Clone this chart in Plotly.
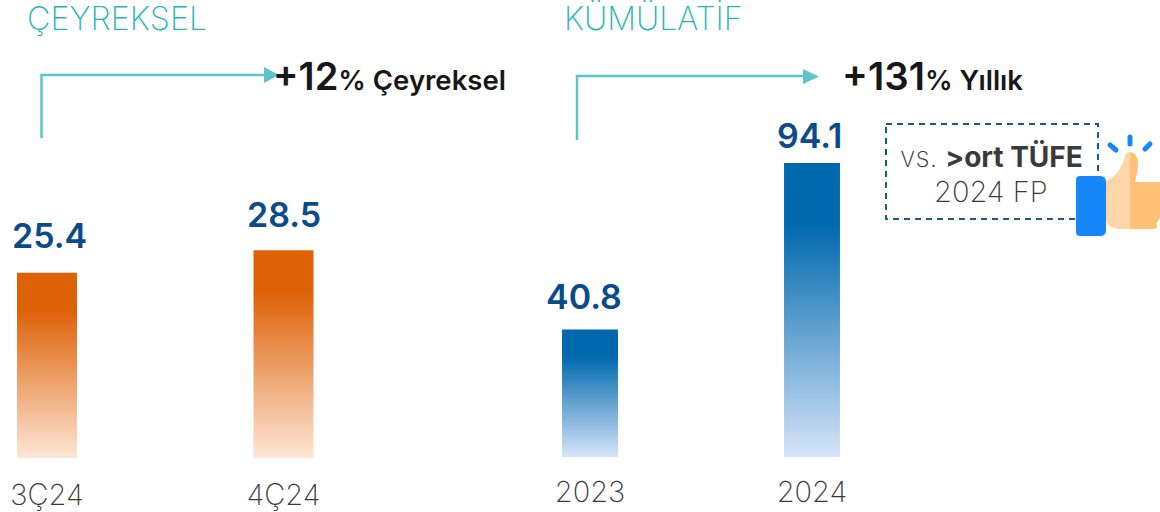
import plotly.graph_objects as go

quarters = ["3Ç24", "4Ç24"]
quarter_values = [25.4, 28.5]
years = ["2023", "2024"]
year_values = [40.8, 94.1]

W, H = 1160, 512
FONT = "Inter"
TEAL = "#5cc5c9"
TITLE = "#27b5b7"
NAVY = "#0b4a8b"
GREY = "#3a3a3a"

fig = go.Figure()
fig.add_trace(go.Bar(x=quarters, y=quarter_values, width=0.2537, xaxis="x", yaxis="y",
                     marker=dict(color="#de6108", line=dict(width=0)), hoverinfo="skip"))
fig.add_trace(go.Bar(x=years, y=year_values, width=0.252, xaxis="x2", yaxis="y2",
                     marker=dict(color="#0069ae", line=dict(width=0)), hoverinfo="skip"))
# invisible full-page helper trace so decorations can use pixel-like axes
fig.add_trace(go.Scatter(x=[0], y=[0], xaxis="x3", yaxis="y3", mode="markers",
                         marker=dict(opacity=0), showlegend=False, hoverinfo="skip"))


def px_path(*pts):
    return "M" + " L".join(f"{x},{y}" for x, y in pts)


def shape(path, fill=None, line=None, width=0, dash=None):
    d = dict(type="path", path=path, xref="x3", yref="y3", layer="above",
             line=dict(color=line or "rgba(0,0,0,0)", width=width))
    if dash:
        d["line"]["dash"] = dash
    if fill:
        d["fillcolor"] = fill
    return d


shapes = [
    shape(px_path((41.5, 138), (41.5, 75), (268, 75)), line=TEAL, width=2.5),
    shape(px_path((264, 67), (279, 75), (264, 83)) + " Z", fill=TEAL),
    shape(px_path((577, 140), (577, 76), (806, 76)), line=TEAL, width=2.5),
    shape(px_path((803, 69), (819, 76.5), (803, 84)) + " Z", fill=TEAL),
    shape(px_path((886, 124), (1098, 124), (1098, 219), (886, 219)) + " Z", line="#1b5a8e", width=2, dash="6px,5px"),
    # thumb
    shape("M1106,181 C1115,178 1122,168 1125,156 Q1126,152 1130,152 L1130,229 L1118,229 Q1110,228 1106,222 Z", fill="#fdd7a8"),
    shape("M1130,152 Q1138,153 1138,163 Q1138,172 1135,182 L1160,182 L1160,218 L1156,224 Q1160,229 1152,229 L1130,229 Z", fill="#fec177"),
    shape("M1080,176 L1100,176 Q1106,176 1106,182 L1106,230 Q1106,236 1100,236 L1080,236 Q1076,236 1076,232 L1076,180 Q1076,176 1080,176 Z", fill="#1786fb"),
    shape(px_path((1110, 145), (1116, 150)), line="#1786fb", width=5),
    shape(px_path((1130, 137), (1130, 144)), line="#1786fb", width=5),
    shape(px_path((1150, 144), (1145, 149)), line="#1786fb", width=5),
]


def note(x, y, text, size, color, weight=400, anchor="left"):
    return dict(x=x, y=y, xref="x3", yref="y3", text=text, showarrow=False, xanchor=anchor, yanchor="middle",
                font=dict(family=FONT, size=size, color=color, weight=weight))


def value_label(pos, val, xref, yref, xshift, yshift):
    return dict(x=pos, y=val, xref=xref, yref=yref, text=f"{val:.1f}", showarrow=False, xanchor="center",
                yanchor="middle", xshift=xshift, yshift=yshift,
                font=dict(family=FONT, size=34, color=NAVY, weight=600))


annotations = [
    note(25, 18, "ÇEYREKSEL", 32.3, TITLE, 200),
    note(562, 18, "KÜMÜLATİF", 32, TITLE, 200),
    note(271, 76, '+12<span style="font-size:27.5px">% Çeyreksel</span>', 38, "#171717", 600),
    note(840, 76, '+131<span style="font-size:27.5px">% Yıllık</span>', 38.5, "#171717", 600),
    note(991, 157, "vs. <b>&gt;ort TÜFE</b>", 28, GREY, 200, "center"),
    note(991, 191, "2024 FP", 29, GREY, 200, "center"),
    value_label(0, quarter_values[0], "x", "y", 2.5, 37),
    value_label(1, quarter_values[1], "x", "y", 0.5, 36),
    value_label(0, year_values[0], "x2", "y2", -6, 33),
    value_label(1, year_values[1], "x2", "y2", -3, 27),
]

tick = dict(family=FONT, size=29, color=GREY, weight=200)
common_x = dict(type="category", showline=False, showgrid=False, zeroline=False, ticks="outside",
                tickcolor="rgba(0,0,0,0)", tickfont=tick, automargin=False)
common_y = dict(visible=False, fixedrange=True)
left_bottom = 1 - 458 / H
right_bottom = 1 - 457 / H

fig.update_layout(
    width=W, height=H, autosize=False, margin=dict(l=0, r=0, t=0, b=0),
    paper_bgcolor="white", plot_bgcolor="rgba(0,0,0,0)", showlegend=False,
    xaxis=dict(domain=[0, 400 / W], range=[-0.1987, 1.4926], anchor="y", ticklen=11, **common_x),
    xaxis2=dict(domain=[480 / W, 900 / W], range=[-0.4955, 1.3964], anchor="y2", ticklen=9, **common_x),
    xaxis3=dict(domain=[0, 1], range=[0, W], visible=False, anchor="y3"),
    yaxis=dict(domain=[left_bottom, 1], range=[0, 458 / 7.29], anchor="x", **common_y),
    yaxis2=dict(domain=[right_bottom, 1], range=[0, 457 / 3.125], anchor="x2", **common_y),
    yaxis3=dict(domain=[0, 1], range=[H, 0], visible=False, anchor="x3"),
    shapes=shapes, annotations=annotations,
)

gradient_js = """
(function () {
  document.documentElement.style.margin = '0';
  document.body.style.margin = '0';
  var gd = document.querySelector('.plotly-graph-div');
  var svg = gd.querySelector('svg.main-svg');
  var NS = 'http://www.w3.org/2000/svg';
  var defs = svg.querySelector('defs') || svg.appendChild(document.createElementNS(NS, 'defs'));
  function grad(id, stops) {
    var g = document.createElementNS(NS, 'linearGradient');
    g.setAttribute('id', id);
    g.setAttribute('x1', '0'); g.setAttribute('y1', '0');
    g.setAttribute('x2', '0'); g.setAttribute('y2', '1');
    stops.forEach(function (s) {
      var st = document.createElementNS(NS, 'stop');
      st.setAttribute('offset', s[0]);
      st.setAttribute('stop-color', s[1]);
      g.appendChild(st);
    });
    defs.appendChild(g);
  }
  grad('barOrange', [[0, '#de6108'], [0.2, '#de6108'], [1, '#fde6d6']]);
  grad('barBlue', [[0, '#0069ae'], [0.21, '#0069ae'], [1, '#d6e4f9']]);
  var traces = gd.querySelectorAll('.barlayer .trace');
  ['barOrange', 'barBlue'].forEach(function (id, i) {
    traces[i].querySelectorAll('path').forEach(function (p) {
      p.style.fill = 'url(#' + id + ')';
    });
  });
  gd.querySelectorAll('.shapelayer path').forEach(function (p) {
    if (parseFloat(p.style.strokeWidth) === 5) { p.style.strokeLinecap = 'round'; }
  });
})();
"""

fig.write_html("out.html", post_script=gradient_js, config=dict(displayModeBar=False))
